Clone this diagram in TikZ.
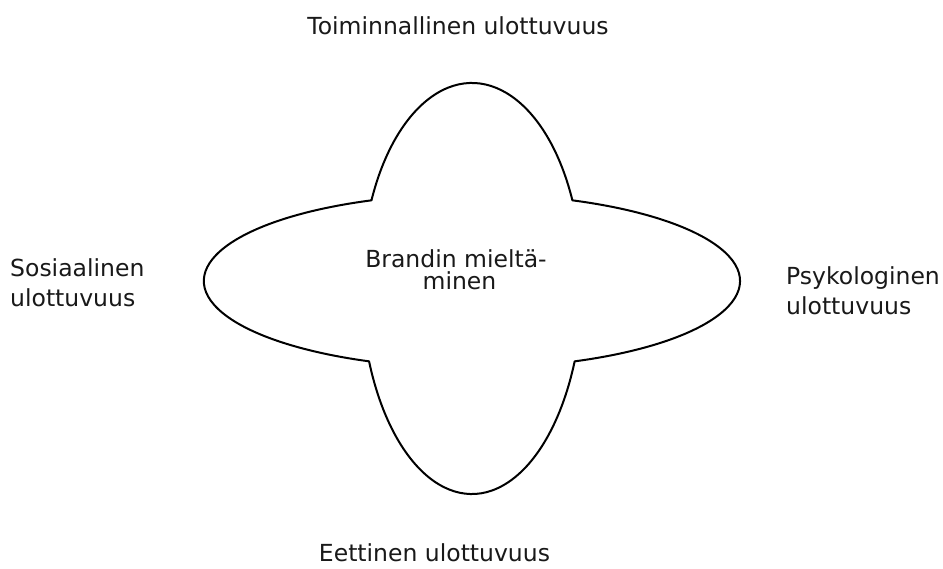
\documentclass[tikz,border=0pt]{standalone}
\usepackage{fontspec}
\setmainfont{DejaVu Sans}
\usetikzlibrary{calc}
\begin{document}
\begin{tikzpicture}[x=1pt,y=1pt,
  outline/.style={draw=black,line width=2pt,line join=round},
  lbl/.style={inner sep=0pt,font=\fontsize{23.5}{27}\selectfont,text=black!90}]
\useasboundingbox (0,0) rectangle (943,568);
\fill[white] (0,0) rectangle (943,568);
\coordinate (c) at (472,287);
\draw[outline] ($(c)+(-67.44:268 and 87)$)
  arc[start angle=-67.44, end angle=68.0, x radius=268pt, y radius=87pt]
  arc[start angle=24.04, end angle=155.96, x radius=110pt, y radius=198pt]
  arc[start angle=112.0, end angle=247.44, x radius=268pt, y radius=87pt]
  arc[start angle=202.16, end angle=337.84, x radius=111pt, y radius=213pt]
  -- cycle;
\node[lbl,anchor=base] (top) at (458,533) {Toiminnallinen ulottuvuus};
\node[lbl,anchor=base] (bottom) at (434.5,6) {Eettinen ulottuvuus};
\node[lbl,anchor=base west] (left1) at (10,291) {Sosiaalinen};
\node[lbl,anchor=base west] (left2) at (10,261) {ulottuvuus};
\node[lbl,anchor=base west] (right1) at (786,283) {Psykologinen};
\node[lbl,anchor=base west] (right2) at (786,253) {ulottuvuus};
\node[lbl,anchor=base] (center1) at (456,300) {Brandin mieltä-};
\node[lbl,anchor=base] (center2) at (459.5,278) {minen};
\end{tikzpicture}
\end{document}
